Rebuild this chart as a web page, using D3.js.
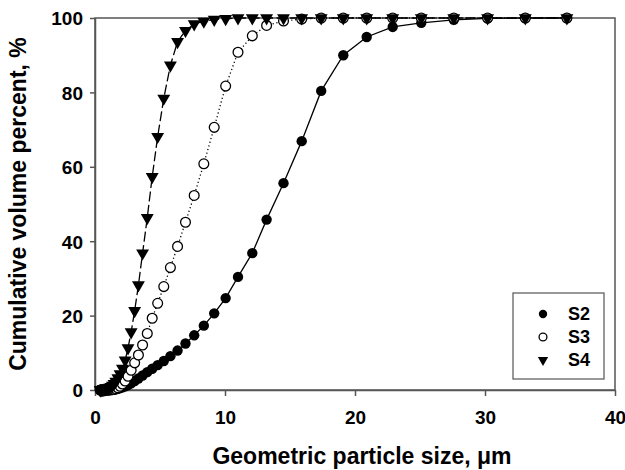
<!DOCTYPE html>
<html>
<head>
<meta charset="utf-8">
<script src="https://cdn.jsdelivr.net/npm/d3@7"></script>
<style>
  html, body { margin: 0; padding: 0; background: #fff; }
  svg { display: block; font-family: "Liberation Sans", Arial, sans-serif; }
  .tick text { font-weight: bold; font-size: 19px; fill: #000; }
</style>
</head>
<body>
<svg id="chart" width="625" height="470"></svg>
<script>
// Geometric particle size bins (µm)
const sizes = [0.40,0.44,0.48,0.53,0.58,0.64,0.70,0.77,0.84,0.92,1.01,1.11,1.22,1.34,1.46,1.60,1.76,1.93,2.11,2.32,2.54,2.78,3.05,3.34,3.66,4.02,4.40,4.82,5.29,5.80,6.35,6.96,7.63,8.37,9.17,10.05,11.0,12.1,13.2,14.5,15.9,17.4,19.1,20.9,22.9,25.1,27.6,30.2,33.1,36.3];

// Cumulative volume percent for each sample
const s2 = [0,0,0,0,0,0,0,0,0,0,0,0.02,0.04,0.07,0.12,0.2,0.32,0.5,0.75,1.0,1.3,1.8,2.4,3.1,3.9,4.8,5.7,6.7,7.8,9.1,10.6,12.5,14.7,17.3,20.6,24.7,30.4,36.8,45.8,55.6,66.9,80.4,90.0,94.9,97.6,98.7,99.5,99.9,100,100];
const s3 = [0,0,0,0,0,0,0,0,0,0,0,0,0.05,0.1,0.2,0.35,0.6,1.0,1.6,2.4,3.7,5.3,7.3,9.4,12.1,15.2,19.3,23.3,27.8,32.9,38.6,45.1,52.3,60.8,70.6,81.7,90.8,95.2,98.0,99.2,99.7,100,100,100,100,100,100,100,100,100];
const s4 = [0,0,0.05,0.1,0.1,0.15,0.2,0.25,0.3,0.4,0.5,0.65,0.9,1.2,1.7,2.3,3.2,4.3,5.8,8.0,11.3,15.6,21.3,28.2,36.8,46.3,57.3,68.1,78.4,87.3,93.6,96.6,98.4,99.1,99.6,99.8,100,100,100,100,100,100,100,100,100,100,100,100,100,100];

const seriesNames = ["S2", "S3", "S4"];
const xTicks = [0, 10, 20, 30, 40];
const yTicks = [0, 20, 40, 60, 80, 100];

const svg = d3.select("#chart");
const margin = { left: 95, top: 18, right: 10, bottom: 80 };
const W = 625, H = 470;
const x0 = margin.left, x1 = W - margin.right, y0 = H - margin.bottom, y1 = margin.top;

const x = d3.scaleLinear().domain([0, 40]).range([x0, x1]);
const y = d3.scaleLinear().domain([0, 100]).range([y0, y1]);

const axisColor = "#555";

// Frame
svg.append("rect")
  .attr("x", x0).attr("y", y1)
  .attr("width", x1 - x0).attr("height", y0 - y1)
  .attr("fill", "none").attr("stroke", axisColor).attr("stroke-width", 1.5);

// Axes
const xAxis = svg.append("g")
  .attr("transform", `translate(0,${y0})`)
  .call(d3.axisBottom(x).tickValues(xTicks).tickSize(6).tickSizeOuter(0).tickPadding(15));
const yAxis = svg.append("g")
  .attr("transform", `translate(${x0},0)`)
  .call(d3.axisLeft(y).tickValues(yTicks).tickSize(5).tickSizeOuter(0).tickPadding(7));
[xAxis, yAxis].forEach(g => {
  g.select(".domain").attr("stroke", axisColor).attr("stroke-width", 1.5);
  g.selectAll(".tick line").attr("stroke", axisColor).attr("stroke-width", 1.5);
});
yAxis.selectAll(".tick text").attr("dy", "0.36em");

// Axis titles
svg.append("text")
  .attr("x", 362).attr("y", 464)
  .attr("text-anchor", "middle")
  .attr("font-weight", "bold").attr("font-size", 23)
  .text("Geometric particle size, μm");
svg.append("text")
  .attr("transform", `translate(26,${(y0 + y1) / 2}) rotate(-90)`)
  .attr("text-anchor", "middle")
  .attr("font-weight", "bold").attr("font-size", 23)
  .text("Cumulative volume percent, %");

const line = d3.line().x(d => x(d[0])).y(d => y(d[1]));
const pts = vals => sizes.map((s, i) => [s, vals[i]]);

const series = [
  { name: seriesNames[0], data: pts(s2), dash: null, marker: "filled" },
  { name: seriesNames[1], data: pts(s3), dash: "1.2,2.6", marker: "open" },
  { name: seriesNames[2], data: pts(s4), dash: "10,3.5", marker: "tri" }
];

const plot = svg.append("g");

function drawMarker(g, kind, cx, cy, scale) {
  if (kind === "filled") {
    g.append("circle").attr("cx", cx).attr("cy", cy).attr("r", 5.2 * scale).attr("fill", "#000");
  } else if (kind === "open") {
    g.append("circle").attr("cx", cx).attr("cy", cy).attr("r", 4.9 * scale)
      .attr("fill", "#fff").attr("stroke", "#000").attr("stroke-width", 1.3);
  } else {
    g.append("path")
      .attr("d", d3.symbol().type(d3.symbolTriangle).size(72 * scale * scale)())
      .attr("transform", `translate(${cx},${cy}) rotate(180)`)
      .attr("fill", "#000");
  }
}

series.forEach(s => {
  plot.append("path")
    .datum(s.data)
    .attr("d", line)
    .attr("fill", "none")
    .attr("stroke", "#000")
    .attr("stroke-width", 1.3)
    .attr("stroke-dasharray", s.dash);
});
series.forEach(s => {
  const g = plot.append("g");
  s.data.forEach(d => drawMarker(g, s.marker, x(d[0]), y(d[1]), 1));
});

// Legend
const leg = svg.append("g");
leg.append("rect")
  .attr("x", 513).attr("y", 293).attr("width", 91).attr("height", 86)
  .attr("fill", "#fff").attr("stroke", axisColor).attr("stroke-width", 1.2);
series.forEach((s, i) => {
  const cy = 314 + i * 23;
  drawMarker(leg, s.marker, 543, cy, 0.8);
  leg.append("text")
    .attr("x", 568).attr("y", cy).attr("dy", "0.36em")
    .attr("font-weight", "bold").attr("font-size", 18)
    .text(s.name);
});
</script>
</body>
</html>
